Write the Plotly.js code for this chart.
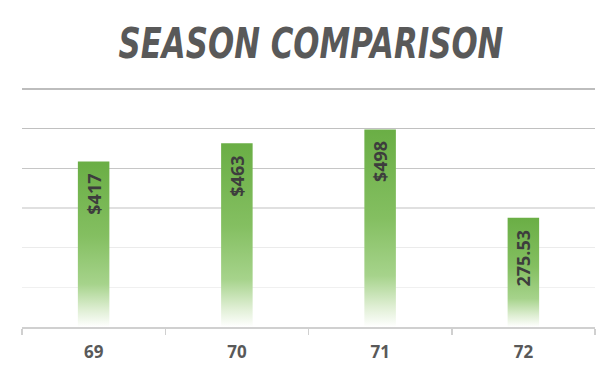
<!DOCTYPE html>
<html>
<head>
<meta charset="utf-8">
<script src="https://cdn.plot.ly/plotly-3.0.1.min.js"></script>
<style>
html,body{margin:0;padding:0;background:#fff;}
#chart{width:616px;height:376px;}
</style>
</head>
<body>
<div id="chart"></div>
<script>
var seasons = ['69', '70', '71', '72'];
var amounts = [417, 463, 498, 275.53];
var labels = ['$417', '$463', '$498', '275.53'];
var gridShades = ['#f0f0f0', '#ebebeb', '#e0e0e0', '#c6c6c6', '#c0c0c0', '#bdbdbd'];

var trace = {
  type: 'bar',
  x: seasons,
  y: amounts,
  width: 0.22,
  marker: {color: '#70AD47', line: {width: 0}},
  hoverinfo: 'none'
};

var annotations = seasons.map(function (s, i) {
  return {
    x: i, y: amounts[i], xref: 'x', yref: 'y',
    text: labels[i], showarrow: false,
    textangle: -90, yanchor: 'top', yshift: -10,
    font: {family: 'Open Sans, DejaVu Sans, sans-serif', size: 18, color: '#3d3d3d', weight: 700}
  };
});

var layout = {
  width: 616, height: 376,
  margin: {l: 22, r: 21, t: 85, b: 49},
  paper_bgcolor: '#ffffff', plot_bgcolor: '#ffffff',
  showlegend: false,
  title: {
    text: '<i><b>SEASON COMPARISON</b></i>',
    x: 0.505, xanchor: 'center', y: 0.885, yanchor: 'middle',
    font: {family: 'DejaVu Sans, sans-serif', size: 42, color: '#595959'}
  },
  xaxis: {
    type: 'category',
    categoryorder: 'array', categoryarray: seasons,
    range: [-0.5, 3.5],
    showline: true, linecolor: '#d0d0d0', linewidth: 1.5,
    ticks: 'outside', tickson: 'boundaries', ticklen: 6, tickcolor: '#d0d0d0', tickwidth: 1.5,
    ticklabelstandoff: 9,
    showgrid: false,
    tickfont: {family: 'Open Sans, DejaVu Sans, sans-serif', size: 17, color: '#595959', weight: 700},
    fixedrange: true
  },
  yaxis: {
    range: [0, 610], tickvals: [100, 200, 300, 400, 500, 600],
    showticklabels: false, showgrid: true, gridcolor: '#d0d0d0', gridwidth: 1.5,
    zeroline: false, fixedrange: true
  },
  annotations: annotations
};

Plotly.newPlot('chart', [trace], layout, {displayModeBar: false, staticPlot: true}).then(function (gd) {
  var svg = gd.querySelector('svg.main-svg');
  var ns = 'http://www.w3.org/2000/svg';
  var defs = svg.querySelector('defs') || svg.insertBefore(document.createElementNS(ns, 'defs'), svg.firstChild);
  var grad = document.createElementNS(ns, 'linearGradient');
  grad.setAttribute('id', 'barGrad');
  grad.setAttribute('x1', '0'); grad.setAttribute('y1', '0');
  grad.setAttribute('x2', '0'); grad.setAttribute('y2', '1');
  [['0', '#6aae45'], ['0.45', '#84bf61'], ['0.74', '#a6d38b'], ['0.9', '#e0efd5'], ['1', '#ffffff']].forEach(function (st) {
    var s = document.createElementNS(ns, 'stop');
    s.setAttribute('offset', st[0]);
    s.setAttribute('stop-color', st[1]);
    grad.appendChild(s);
  });
  defs.appendChild(grad);
  gd.querySelectorAll('.bars .point path').forEach(function (p) {
    p.style.fill = 'url(#barGrad)';
  });
  var grids = gd.querySelectorAll('.ygrid');
  grids.forEach(function (g, i) {
    var c = gridShades[Math.min(i, gridShades.length - 1)];
    g.style.stroke = c;
  });
  // condense the title horizontally to match the narrow display face
  var t = gd.querySelector('.gtitle');
  if (t) {
    var bb = t.getBBox();
    var target = 385;
    var sx = target / bb.width;
    var cx = bb.x + bb.width / 2, cy = bb.y + bb.height / 2;
    var dx = 311 - cx;
    t.setAttribute('transform', 'translate(' + (cx + dx) + ',' + cy + ') scale(' + sx + ',1) translate(' + (-cx) + ',' + (-cy) + ')');
  }
});
</script>
</body>
</html>
